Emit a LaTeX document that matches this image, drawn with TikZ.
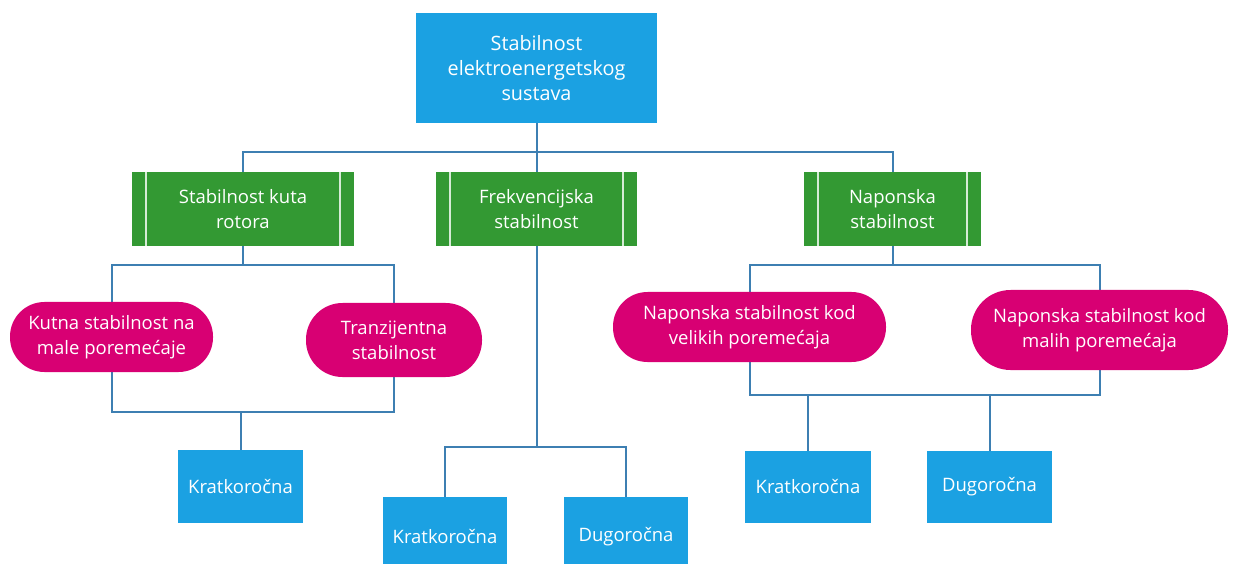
\documentclass[tikz,border=0pt]{standalone}
\usepackage{fontspec}
\setmainfont{Open Sans}
\usetikzlibrary{backgrounds}
\definecolor{cblue}{HTML}{1BA1E2}
\definecolor{cgreen}{HTML}{339933}
\definecolor{cpink}{HTML}{D80073}
\definecolor{cline}{HTML}{3D7FB2}
\tikzset{
  txt/.style={font=\fontsize{18.5}{25}\selectfont, text=white, align=center, inner sep=0pt},
  bluebox/.style={txt, fill=cblue, rectangle},
  greenbox/.style={txt, fill=cgreen, rectangle, path picture={
      \draw[white!80!cgreen, line width=1.3pt]
        ([xshift=14pt]path picture bounding box.north west) -- ([xshift=14pt]path picture bounding box.south west);
      \draw[white!80!cgreen, line width=1.3pt]
        ([xshift=-14pt]path picture bounding box.north east) -- ([xshift=-14pt]path picture bounding box.south east);}},
  pill/.style={txt, fill=cpink, rounded corners=#1},
  conn/.style={draw=cline, line width=2pt},
  wh/.style 2 args={minimum width=#1pt, minimum height=#2pt}
}
\begin{document}
\begin{tikzpicture}[x=1pt,y=-1pt]
\useasboundingbox (0,0) rectangle (1235,564);
\clip (0,0) rectangle (1235,564);

% nodes
\node[bluebox, wh={241}{110}, font=\fontsize{19.8}{25}\selectfont, text depth=0pt] (top) at (536.5,68) {\rule{0pt}{8pt}Stabilnost\\elektroenergetskog\\sustava};

\node[greenbox, wh={222}{74}] (g1) at (243,209) {Stabilnost kuta\\rotora};
\node[greenbox, wh={201}{74}] (g2) at (536.5,209) {Frekvencijska\\stabilnost};
\node[greenbox, wh={177}{74}] (g3) at (892.5,209) {Naponska\\stabilnost};

\node[pill=34.5pt, wh={203}{70}] (p1) at (111.5,337) {Kutna stabilnost na\\male poremećaje};
\node[pill=36.5pt, wh={176}{74}] (p2) at (394,340) {Tranzijentna\\stabilnost};
\node[pill=34.5pt, wh={273}{70}] (p3) at (749.5,327) {Naponska stabilnost kod\\velikih poremećaja};
\node[pill=39.5pt, wh={257}{80}] (p4) at (1099.5,330) {Naponska stabilnost kod\\malih poremećaja};

\node[bluebox, wh={125}{73}] (k1) at (240.5,486.5) {Kratkoročna};
\node[bluebox, wh={124}{80}] (k2) at (445,537) {Kratkoročna};
\node[bluebox, wh={124}{80}] (d2) at (626,537) {Dugoročna};
\node[bluebox, wh={126}{72}] (k3) at (808,487) {Kratkoročna};
\node[bluebox, wh={125}{72}] (d3) at (989.5,487) {Dugoročna};

\coordinate (bus1) at (0,152);
\coordinate (bus2) at (0,265);
\coordinate (bus3) at (0,412);
\coordinate (bus4) at (0,395);
\coordinate (bus5) at (0,447);

\begin{scope}[on background layer]
\fill[white] (0,0) rectangle (1235,564);
% level 1
\draw[conn] (top.south) -- (top.south |- bus1);
\draw[conn] (g1.north) |- (g3.north |- bus1) -- (g3.north);
\draw[conn] (top.south |- bus1) -- (g2.north);
% left group
\draw[conn] (g1.south) -- (g1.south |- bus2);
\draw[conn] (p1.center |- bus2) rectangle (p2.center |- bus3);
\draw[conn] (k1.north) -- (k1.north |- bus3);
% middle group
\draw[conn] (g2.south) -- (g2.south |- bus5);
\draw[conn] (k2.north) |- (d2.north |- bus5) -- (d2.north);
% right group
\draw[conn] (g3.south) -- (g3.south |- bus2);
\draw[conn] (p3.center |- bus2) rectangle (p4.center |- bus4);
\draw[conn] (k3.north) -- (k3.north |- bus4);
\draw[conn] (d3.north) -- (d3.north |- bus4);
\end{scope}
\end{tikzpicture}
\end{document}
